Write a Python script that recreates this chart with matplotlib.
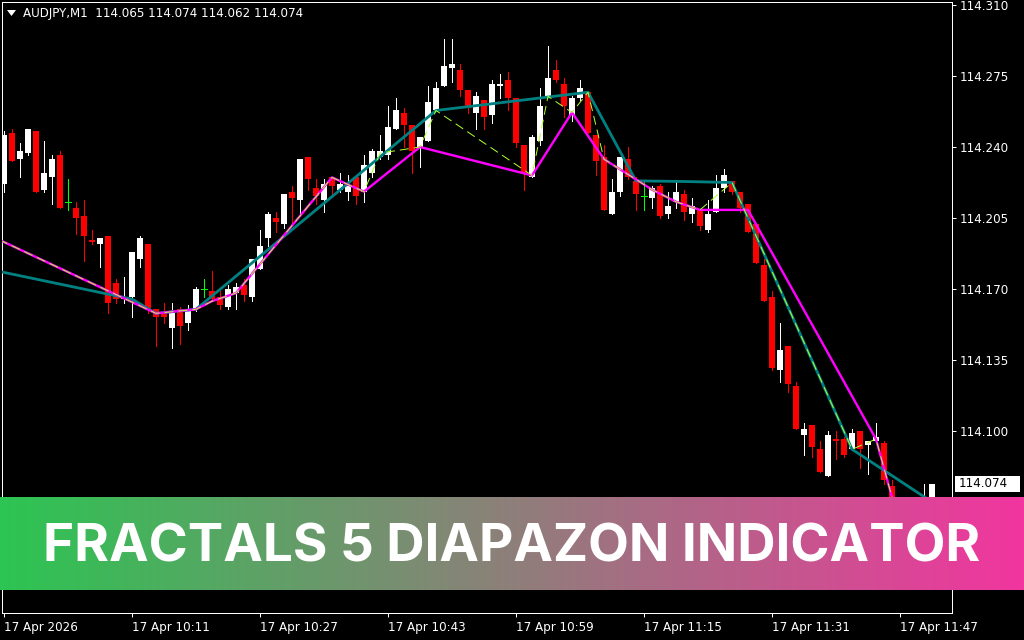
import matplotlib
matplotlib.use("Agg")
import matplotlib.pyplot as plt
import numpy as np
from matplotlib.transforms import blended_transform_factory
from matplotlib.patches import Rectangle, Polygon
from matplotlib.colors import LinearSegmentedColormap

# ---------------- data ----------------
symbol_title = "AUDJPY,M1  114.065 114.074 114.062 114.074"
banner_text = "FRACTALS 5 DIAPAZON INDICATOR"
current_price = 114.074

time_label_bars = [0, 16, 32, 48, 64, 80, 96, 112]
time_labels = ["17 Apr 2026", "17 Apr 10:11", "17 Apr 10:27", "17 Apr 10:43",
               "17 Apr 10:59", "17 Apr 11:15", "17 Apr 11:31", "17 Apr 11:47"]
price_ticks = [114.310, 114.275, 114.240, 114.205, 114.170, 114.135, 114.100]

opens = [114.222, 114.247, 114.234, 114.237, 114.248, 114.219, 114.225, 114.236, 114.213, 114.210,
         114.206, 114.194, 114.192, 114.196, 114.173, 114.165, 114.166, 114.185, 114.192, 114.160,
         114.158, 114.151, 114.160, 114.153, 114.160, 114.170, 114.169, 114.166, 114.161, 114.168,
         114.172, 114.166, 114.180, 114.195, 114.205, 114.202, 114.218, 114.214, 114.235, 114.220,
         114.214, 114.225, 114.219, 114.218, 114.225, 114.218, 114.227, 114.235, 114.236, 114.249,
         114.257, 114.251, 114.240, 114.243, 114.258, 114.270, 114.279, 114.278, 114.268, 114.257,
         114.263, 114.256, 114.270, 114.273, 114.264, 114.241, 114.225, 114.243, 114.265, 114.278,
         114.271, 114.256, 114.264, 114.267, 114.246, 114.235, 114.207, 114.218, 114.234, 114.223,
         114.216, 114.215, 114.221, 114.207, 114.213, 114.217, 114.207, 114.209, 114.199, 114.208,
         114.220, 114.223, 114.218, 114.212, 114.202, 114.182, 114.166, 114.130, 114.142, 114.122,
         114.098, 114.103, 114.091, 114.078, 114.096, 114.096, 114.091, 114.100, 114.093, 114.095,
         114.094, 114.073, 114.060, 114.055, 114.058, 114.060, 114.065]
highs = [114.248, 114.249, 114.242, 114.249, 114.248, 114.243, 114.236, 114.238, 114.224, 114.213,
         114.214, 114.199, 114.195, 114.196, 114.175, 114.176, 114.188, 114.196, 114.192, 114.160,
         114.163, 114.163, 114.161, 114.162, 114.171, 114.175, 114.179, 114.169, 114.172, 114.173,
         114.175, 114.185, 114.199, 114.208, 114.208, 114.217, 114.221, 114.234, 114.235, 114.224,
         114.224, 114.225, 114.227, 114.226, 114.226, 114.236, 114.239, 114.246, 114.260, 114.264,
         114.259, 114.251, 114.245, 114.270, 114.272, 114.293, 114.293, 114.281, 114.268, 114.267,
         114.263, 114.273, 114.276, 114.277, 114.264, 114.241, 114.246, 114.269, 114.290, 114.283,
         114.274, 114.265, 114.273, 114.267, 114.246, 114.241, 114.224, 114.235, 114.240, 114.225,
         114.223, 114.221, 114.222, 114.218, 114.223, 114.219, 114.215, 114.209, 114.214, 114.226,
         114.229, 114.223, 114.218, 114.212, 114.202, 114.185, 114.169, 114.153, 114.142, 114.124,
         114.104, 114.103, 114.095, 114.100, 114.100, 114.097, 114.101, 114.100, 114.095, 114.104,
         114.095, 114.076, 114.062, 114.060, 114.064, 114.074, 114.074]
lows = [114.218, 114.233, 114.225, 114.236, 114.218, 114.218, 114.212, 114.210, 114.209, 114.197,
        114.184, 114.192, 114.181, 114.158, 114.163, 114.163, 114.156, 114.181, 114.158, 114.142,
        114.153, 114.141, 114.143, 114.150, 114.159, 114.166, 114.164, 114.160, 114.160, 114.160,
        114.164, 114.164, 114.180, 114.191, 114.198, 114.200, 114.202, 114.207, 114.219, 114.212,
        114.208, 114.216, 114.218, 114.214, 114.212, 114.213, 114.225, 114.234, 114.234, 114.249,
        114.240, 114.227, 114.230, 114.243, 114.258, 114.270, 114.272, 114.265, 114.257, 114.249,
        114.249, 114.252, 114.264, 114.258, 114.240, 114.219, 114.225, 114.241, 114.265, 114.272,
        114.255, 114.253, 114.263, 114.247, 114.226, 114.209, 114.207, 114.216, 114.224, 114.209,
        114.209, 114.210, 114.205, 114.205, 114.210, 114.204, 114.203, 114.199, 114.198, 114.208,
        114.218, 114.217, 114.208, 114.198, 114.183, 114.164, 114.130, 114.124, 114.119, 114.101,
        114.088, 114.087, 114.080, 114.078, 114.086, 114.087, 114.091, 114.082, 114.079, 114.095,
        114.074, 114.058, 114.052, 114.050, 114.056, 114.058, 114.062]
closes = [114.246, 114.233, 114.238, 114.249, 114.218, 114.227, 114.234, 114.210, 114.213, 114.205,
          114.196, 114.193, 114.195, 114.163, 114.165, 114.166, 114.188, 114.195, 114.160, 114.156,
          114.156, 114.158, 114.152, 114.159, 114.170, 114.170, 114.165, 114.162, 114.170, 114.171,
          114.167, 114.185, 114.191, 114.207, 114.203, 114.217, 114.215, 114.234, 114.224, 114.216,
          114.222, 114.221, 114.222, 114.221, 114.216, 114.231, 114.238, 114.238, 114.250, 114.258,
          114.251, 114.238, 114.245, 114.262, 114.269, 114.280, 114.281, 114.268, 114.259, 114.265,
          114.255, 114.271, 114.271, 114.264, 114.242, 114.227, 114.245, 114.260, 114.274, 114.273,
          114.260, 114.264, 114.269, 114.247, 114.233, 114.209, 114.218, 114.235, 114.225, 114.217,
          114.216, 114.220, 114.206, 114.211, 114.218, 114.208, 114.211, 114.201, 114.207, 114.220,
          114.226, 114.218, 114.210, 114.198, 114.183, 114.164, 114.131, 114.140, 114.123, 114.101,
          114.101, 114.092, 114.080, 114.098, 114.095, 114.088, 114.099, 114.091, 114.095, 114.097,
          114.076, 114.060, 114.055, 114.058, 114.062, 114.066, 114.074]

# indicator sections (bar index, value)
teal_bars = [-1, 16, 19, 24, 54, 73, 79, 85, 91, 106, 116]
teal_vals = [114.179, 114.165, 114.158, 114.160, 114.258, 114.267, 114.2233, 114.2230, 114.2225,
             114.091, 114.065]
magenta_bars = [-1, 19, 24, 26, 29, 41, 45, 52, 66, 71, 75, 79, 81, 84, 87, 93, 109, 112]
magenta_vals = [114.195, 114.158, 114.160, 114.164, 114.168, 114.225, 114.218, 114.240, 114.226,
                114.257, 114.234, 114.224, 114.219, 114.213, 114.209, 114.209, 114.096, 114.053]
yellow_bars = [-1, 19, 24, 26, 29, 41, 45, 47, 52, 54, 66, 68, 71, 73, 75, 79, 81, 84, 87, 91,
               106, 109, 112]
yellow_vals = [114.195, 114.158, 114.160, 114.164, 114.168, 114.225, 114.218, 114.237, 114.240,
               114.258, 114.226, 114.265, 114.257, 114.267, 114.234, 114.224, 114.219, 114.213,
               114.209, 114.2225, 114.091, 114.096, 114.053]

# ---------------- figure ----------------
W, H, DPI = 1024, 640, 100
PX = 72.0 / DPI  # one pixel in points
plt.rcParams['lines.scale_dashes'] = False
fig = plt.figure(figsize=(W / DPI, H / DPI), dpi=DPI, facecolor='black')

ax_left, ax_right, ax_top, ax_bottom = 2, 952, 2, 613
ax = fig.add_axes([ax_left / W, 1 - ax_bottom / H, (ax_right - ax_left) / W,
                   (ax_bottom - ax_top) / H])
ax.set_facecolor('black')

ppu = 2028.6  # pixels per price unit
y_top = 114.310 + 3 / ppu
y_bot = 114.310 - 608 / ppu
ax.set_ylim(y_bot, y_top)
ax.set_xlim(-0.25, 118.5)

o = np.array(opens); h = np.array(highs); l = np.array(lows); c = np.array(closes)
x = np.arange(len(o))
up = c > o + 1e-9
dn = c < o - 1e-9
dj = ~(up | dn)
cols = np.where(up, '#ffffff', np.where(dn, '#ff0000', '#00ff00'))

ax.vlines(x, l, h, colors=cols, linewidth=1 * PX, zorder=2, antialiased=False)
bw = 0.65
bottoms = np.minimum(o, c)
heights = np.maximum(np.abs(c - o), 1.0 / ppu)
nd = ~dj
ax.bar(x[nd], heights[nd], bottom=bottoms[nd], width=bw, color=cols[nd], linewidth=0,
       antialiased=False, zorder=2)
ax.hlines(o[dj], x[dj] - bw / 2, x[dj] + bw / 2, colors='#00ff00', linewidth=1 * PX,
          zorder=2, antialiased=False)

ax.plot(teal_bars, teal_vals, color='#008080', linewidth=2.8 * PX, zorder=3,
        solid_joinstyle='round')
ax.plot(magenta_bars, magenta_vals, color='#ff00ff', linewidth=2.4 * PX, zorder=4,
        solid_joinstyle='round')
ax.plot(yellow_bars, yellow_vals, color='#adff2f', linewidth=1 * PX, zorder=5,
        linestyle=(0, (9 * PX, 5 * PX)))

# axes styling
for s in ax.spines.values():
    s.set_color('white')
    s.set_linewidth(1 * PX)
ax.yaxis.tick_right()
ax.set_yticks(price_ticks)
ax.set_yticklabels([f"{p:.3f}" for p in price_ticks])
ax.set_xticks(time_label_bars)
ax.set_xticklabels(time_labels)
ax.tick_params(axis='both', colors='white', labelcolor='white', labelsize=8.6,
               length=4 * PX, width=1 * PX, direction='out')
ax.tick_params(axis='y', pad=2.5)
ax.tick_params(axis='x', pad=3)
for t in ax.get_xticklabels():
    t.set_ha('left')

# current price label
btr = blended_transform_factory(fig.transFigure, ax.transData)
ax.add_patch(Rectangle((955 / W, current_price - 8 / ppu), 65 / W, 16 / ppu,
                       transform=btr, facecolor='white', edgecolor='none',
                       clip_on=False, zorder=6))
ax.text(959 / W, current_price, f"{current_price:.3f}", transform=btr, color='black',
        fontsize=8.6, va='center', ha='left', clip_on=False, zorder=7)

# header
fig.text(23 / W, 1 - 14 / H, symbol_title, color='white', fontsize=8.6, va='center',
         ha='left')
tri = Polygon([(7 / W, 1 - 10 / H), (16 / W, 1 - 10 / H), (11.5 / W, 1 - 16 / H)],
              closed=True, transform=fig.transFigure, facecolor='white',
              edgecolor='none')
fig.patches.append(tri)

# banner
b_top, b_bot = 497, 590
bax = fig.add_axes([0, 1 - b_bot / H, 1, (b_bot - b_top) / H], zorder=10)
cmap = LinearSegmentedColormap.from_list('ban', ['#2cc552', '#8e7f7a', '#f2359f'])
bax.imshow(np.linspace(0, 1, 512).reshape(1, -1), aspect='auto', cmap=cmap,
           extent=(0, 1, 0, 1))
bax.set_xlim(0, 1); bax.set_ylim(0, 1)
bax.axis('off')
bt = bax.text(0.5, (b_bot - 561) / (b_bot - b_top), banner_text, color='white',
              fontsize=40, fontweight='bold', family=['Inter', 'DejaVu Sans'],
              ha='center', va='baseline')
fig.canvas.draw()
bb = bt.get_window_extent()
bt.set_fontsize(40 * (982 - 45) / bb.width)

fig.savefig('out.png', dpi=DPI, facecolor='black')
